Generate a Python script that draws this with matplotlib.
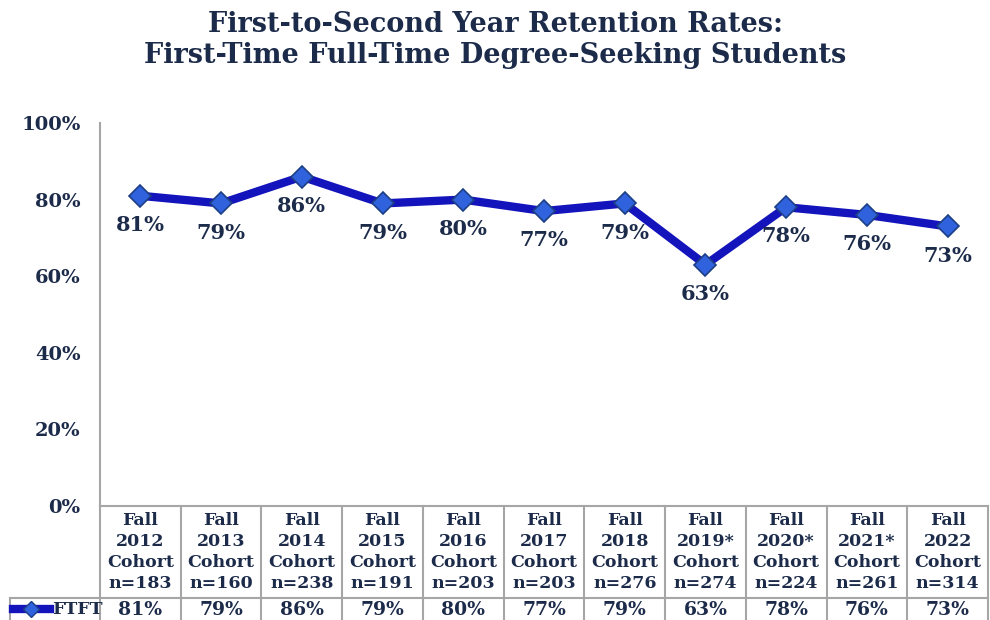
import matplotlib
matplotlib.use("Agg")
import matplotlib.pyplot as plt
from matplotlib.lines import Line2D
from matplotlib.transforms import blended_transform_factory

# ---- data ----
years = ["2012", "2013", "2014", "2015", "2016", "2017", "2018", "2019*", "2020*", "2021*", "2022"]
counts = [183, 160, 238, 191, 203, 203, 276, 274, 224, 261, 314]
rates = [81, 79, 86, 79, 80, 77, 79, 63, 78, 76, 73]
series_name = "FTFT"
title = "First-to-Second Year Retention Rates:\nFirst-Time Full-Time Degree-Seeking Students"
yticks = [0, 20, 40, 60, 80, 100]

TXT = "#1c2b4a"
GRID = "#a6a6a6"
LINE = "#1414bd"
MFACE = "#2f62dc"
MEDGE = "#1d3f86"
FONT = "DejaVu Serif"

W, H = 990, 620
fig = plt.figure(figsize=(W / 100, H / 100), dpi=100)

# plot area in pixels
L, R, T, B = 100, 988, 123, 506
ax = fig.add_axes([L / W, (H - B) / H, (R - L) / W, (B - T) / H])
n = len(rates)
x = list(range(n))
ax.set_xlim(-0.5, n - 0.5)
ax.set_ylim(0, 100)

ax.plot(x, rates, color=LINE, lw=6, solid_joinstyle="round", zorder=3)
ax.plot(x, rates, linestyle="none", marker="D", ms=11, mfc=MFACE, mec=MEDGE, mew=1.2, zorder=4)

for xi, v in zip(x, rates):
    ax.annotate(f"{v}%", (xi, v), xytext=(0, -21), textcoords="offset points",
                ha="center", va="center", fontsize=15, fontweight="bold",
                color=TXT, family=FONT)

ax.set_yticks(yticks)
ax.set_yticklabels([f"{t}%" for t in yticks], fontsize=14, fontweight="bold",
                   color=TXT, family=FONT)
ax.tick_params(axis="y", length=0, pad=14)
ax.set_xticks([])
for s in ["top", "right", "bottom"]:
    ax.spines[s].set_visible(False)
ax.spines["left"].set_color(GRID)
ax.spines["left"].set_linewidth(1.5)

# ---- data table below the plot ----
tr = blended_transform_factory(ax.transData, fig.transFigure)
trf = fig.transFigure
def fy(py):
    return (H - py) / H

y_top = fy(506)
y_mid = fy(598)
y_bot = fy(622)

for yy in (y_top, y_mid):
    ax.add_line(Line2D([-0.5, n - 0.5], [yy, yy], transform=tr, color=GRID, lw=1.5, clip_on=False))
fig.add_artist(Line2D([10 / W, L / W], [y_mid, y_mid], transform=trf, color=GRID, lw=1.5))
fig.add_artist(Line2D([10 / W, 10 / W], [y_mid, y_bot], transform=trf, color=GRID, lw=1.5))
for i in range(n + 1):
    xb = i - 0.5
    ax.add_line(Line2D([xb, xb], [y_top, y_bot], transform=tr, color=GRID, lw=1.5, clip_on=False))

for xi, yr, c, v in zip(x, years, counts, rates):
    ax.text(xi, fy(552), f"Fall\n{yr}\nCohort\nn={c}", transform=tr, ha="center", va="center",
            fontsize=12.5, fontweight="bold", color=TXT, family=FONT, linespacing=1.33)
    ax.text(xi, fy(610), f"{v}%", transform=tr, ha="center", va="center",
            fontsize=13.5, fontweight="bold", color=TXT, family=FONT)

# legend key
fig.add_artist(Line2D([13 / W, 50 / W], [fy(609), fy(609)], transform=trf, color=LINE, lw=6))
fig.add_artist(Line2D([31 / W], [fy(609)], transform=trf, marker="D", ms=8, mfc=MFACE, mec=MEDGE, ls="none"))
fig.text(52 / W, fy(609), series_name, ha="left", va="center", fontsize=12.5,
         fontweight="bold", color=TXT, family=FONT)

fig.text(0.5, fy(40), title, ha="center", va="center", fontsize=19.5, fontweight="bold",
         color=TXT, family=FONT, linespacing=1.2)

fig.savefig("out.png", dpi=100)
